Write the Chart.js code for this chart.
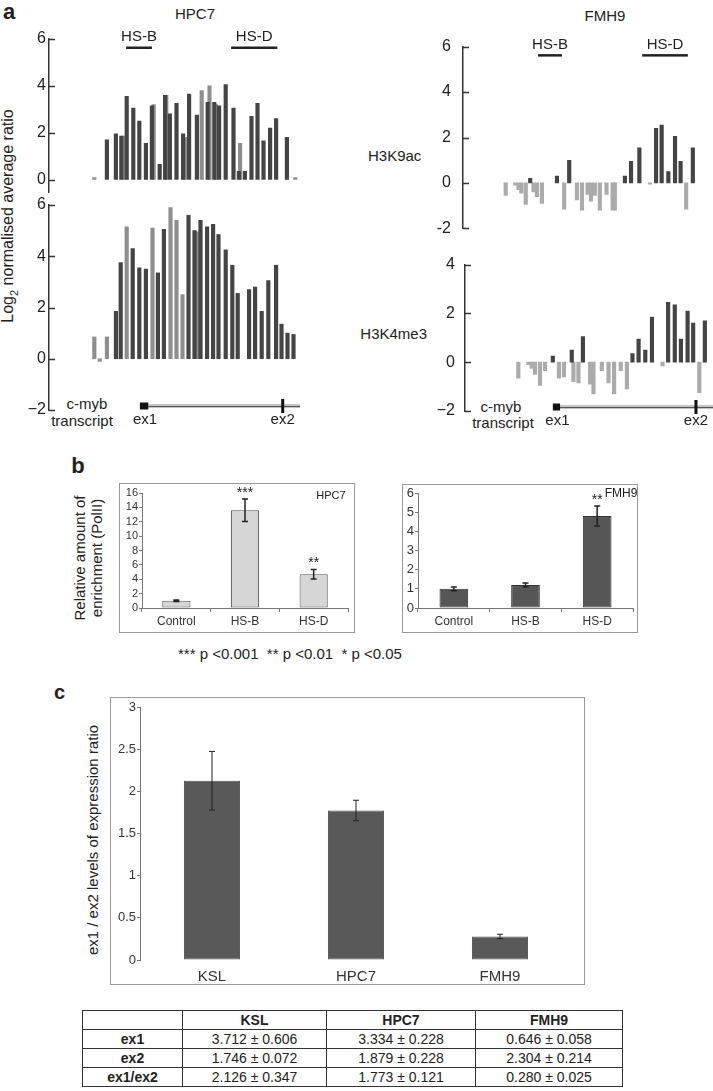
<!DOCTYPE html>
<html>
<head>
<meta charset="utf-8">
<script src="https://cdn.jsdelivr.net/npm/chart.js@4.4.1/dist/chart.umd.min.js"></script>
<style>
  body { margin:0; width:713px; height:1091px; position:relative; overflow:hidden; background:#fff;
         font-family:"Liberation Sans", Arial, sans-serif; color:#222; }
  canvas { position:absolute; }
  .t { position:absolute; white-space:nowrap; line-height:1; }
  .box { position:absolute; border:1px solid #999; box-sizing:border-box; }
  table { position:absolute; left:82px; top:1010px; width:540px; border-collapse:collapse; table-layout:fixed; font-size:14px; }
  td { border:1.5px solid #333; height:18px; padding:0; text-align:center; }
</style>
</head>
<body>
<script>
const FONT = '"Liberation Sans", Arial, sans-serif';
Chart.defaults.font.family = FONT;
Chart.defaults.color = '#222';

// ---- panel a: log2 ratios along the c-myb locus (x = probe position)
const hpc7K9DarkPos = [2.1, 3.6, 4.5, 5.4, 6.5, 7.5, 8.6, 9.6, 10.9, 11.8, 12.6, 13.7, 14.8, 15.8, 17.1, 18.9, 20.0, 20.8, 21.9, 23.2, 24.1, 25.1, 26.2, 27.2, 28.2, 29.3, 30.3, 32.1];
const hpc7K9DarkVal = [1.7, 1.95, 1.85, 3.55, 3.05, 2.5, 1.55, 3.15, 0.65, 3.6, 2.8, 3.25, 1.95, 3.65, 2.75, 3.3, 3.3, 3.15, 4.05, 3.05, 0.35, 0.35, 2.7, 3.25, 1.65, 2.2, 2.6, 1.8];
const hpc7K9LightPos = [0.0, 4.8, 9.9, 12.0, 15.1, 17.9, 19.2, 20.3, 24.3, 33.5];
const hpc7K9LightVal = [0.08, 1.85, 3.2, 3.6, 1.8, 3.8, 4.0, 3.2, 1.55, 0.08];

const hpc7K4DarkPos = [3.6, 4.4, 6.4, 7.5, 8.6, 10.6, 11.6, 15.7, 16.7, 17.7, 18.8, 19.8, 20.7, 21.9, 23.0, 23.9, 25.8, 26.8, 27.9, 29.0, 30.3, 31.2, 32.2, 33.2];
const hpc7K4DarkVal = [1.85, 3.75, 4.3, 3.55, 3.5, 3.35, 5.05, 5.6, 5.0, 5.4, 5.15, 5.25, 4.85, 4.25, 3.65, 2.55, 2.7, 2.8, 1.85, 3.05, 3.65, 1.35, 1.0, 0.95];
const hpc7K4LightPos = [0.0, 0.9, 2.1, 5.4, 9.7, 12.7, 13.7, 14.7, 17.1];
const hpc7K4LightVal = [0.85, -0.1, 0.85, 5.15, 5.1, 5.9, 5.4, 2.5, 4.95];

const fmh9K9DarkPos = [4.4, 9.2, 11.4, 21.4, 22.5, 24.0, 27.0, 28.0, 29.2, 30.4, 31.4, 33.6];
const fmh9K9DarkVal = [0.2, 0.3, 1.0, 0.3, 0.95, 1.55, 2.4, 2.55, 0.5, 2.05, 0.95, 1.55];
const fmh9K9LightPos = [0.0, 1.7, 2.3, 2.8, 3.6, 5.0, 5.6, 6.5, 10.5, 12.8, 13.7, 14.7, 15.3, 16.0, 16.9, 18.1, 19.2, 19.6, 25.9, 32.4];
const fmh9K9LightVal = [-0.55, -0.1, -0.3, -0.45, -0.95, -0.4, -0.6, -0.9, -1.15, -0.75, -1.2, -0.5, -0.8, -0.55, -1.2, -0.5, -1.2, -1.2, -0.05, -1.15];

const fmh9K4DarkPos = [6.2, 9.6, 11.6, 20.5, 21.6, 22.8, 24.0, 26.9, 28.1, 29.2, 30.4, 31.4, 33.5];
const fmh9K4DarkVal = [0.25, 0.5, 1.05, 0.35, 0.95, 0.5, 1.85, 2.45, 2.35, 0.95, 2.1, 1.6, 1.7];
const fmh9K4LightPos = [0.0, 1.8, 2.4, 3.0, 3.9, 4.8, 7.3, 8.2, 9.9, 10.8, 12.9, 13.5, 15.0, 16.2, 17.2, 18.4, 19.5, 25.9, 32.5];
const fmh9K4LightVal = [-0.65, -0.1, -0.25, -0.5, -0.95, -0.35, -0.65, -0.6, -0.8, -0.85, -0.9, -1.3, -0.35, -0.85, -1.3, -0.35, -1.1, -0.15, -1.25];

const hsNames = ['HS-B', 'HS-D'];
const hpc7HsStart = [5.3, 22.8];
const hpc7HsEnd = [9.6, 30.5];
const fmh9HsStart = [5.8, 24.5];
const fmh9HsEnd = [10.1, 32.7];

// exon 1 box, exon 2 and end of the drawn transcript, same position units
const hpc7Exon1 = [7.6, 9.0], hpc7Exon2 = 31.4, hpc7TxEnd = 34.3;
const fmh9Exon1 = [6.2, 7.5], fmh9Exon2 = 31.9, fmh9TxEnd = 35.0;

// ---- panel b: PolII enrichment
const pol2Cats = ['Control', 'HS-B', 'HS-D'];
const hpc7Pol2 = [1.0, 13.6, 4.7];
const hpc7Pol2Err = [0.1, 1.55, 0.65];
const hpc7Stars = ['', '***', '**'];
const fmh9Pol2 = [1.0, 1.2, 4.8];
const fmh9Pol2Err = [0.1, 0.1, 0.52];
const fmh9Stars = ['', '', '**'];

// ---- panel c + table: ex1 / ex2 expression
const cellLines = ['KSL', 'HPC7', 'FMH9'];
const rowNames = ['ex1', 'ex2', 'ex1/ex2'];
const ex1Mean = [3.712, 3.334, 0.646], ex1Sd = [0.606, 0.228, 0.058];
const ex2Mean = [1.746, 1.879, 2.304], ex2Sd = [0.072, 0.228, 0.214];
const ratioMean = [2.126, 1.773, 0.280], ratioSd = [0.347, 0.121, 0.025];

// helpers
function canvasAt(left, top, w, h) {
  const c = document.createElement('canvas');
  c.width = w; c.height = h;
  c.style.left = left + 'px'; c.style.top = top + 'px';
  c.style.width = w + 'px'; c.style.height = h + 'px';
  document.body.appendChild(c);
  return c;
}
function txt(html, x, y, o = {}) {
  const d = document.createElement('div');
  d.className = 't';
  d.innerHTML = html;
  d.style.left = x + 'px'; d.style.top = y + 'px';
  d.style.fontSize = (o.size || 15) + 'px';
  if (o.bold) d.style.fontWeight = 'bold';
  if (o.lh) { d.style.lineHeight = o.lh; d.style.textAlign = 'center'; }
  const ax = o.align === 'left' ? '0' : o.align === 'right' ? '-100%' : '-50%';
  d.style.transform = `translate(${ax},-50%)` + (o.rot ? ` rotate(${o.rot}deg)` : '');
  document.body.appendChild(d);
}
function boxAt(l, t, w, h) {
  const d = document.createElement('div');
  d.className = 'box';
  Object.assign(d.style, { left: l + 'px', top: t + 'px', width: w + 'px', height: h + 'px' });
  document.body.appendChild(d);
}

// inward tick marks on the panel a axes
const inwardTicks = {
  id: 'inwardTicks',
  afterDraw(c) {
    const y = c.scales.y, ctx = c.ctx, x0 = c.chartArea.left;
    ctx.save();
    ctx.strokeStyle = '#333'; ctx.lineWidth = 1.5;
    y.ticks.forEach(t => {
      const py = Math.round(y.getPixelForValue(t.value)) + 0.5;
      ctx.beginPath(); ctx.moveTo(x0, py); ctx.lineTo(x0 + 6, py); ctx.stroke();
    });
    ctx.restore();
  }
};

function hsMarks(start, end) {
  return {
    id: 'hsMarks',
    afterDraw(c) {
      const x = c.scales.x, ctx = c.ctx, top = c.chartArea.top;
      ctx.save();
      ctx.fillStyle = '#222';
      ctx.font = '15px ' + FONT; ctx.textAlign = 'center'; ctx.textBaseline = 'middle';
      hsNames.forEach((n, i) => {
        const x0 = x.getPixelForValue(start[i]), x1 = x.getPixelForValue(end[i]);
        ctx.fillRect(x0, top + 7.5, x1 - x0, 2.5);
        ctx.fillText(n, (x0 + x1) / 2, top - 2);
      });
      ctx.restore();
    }
  };
}

function transcript(ex1, ex2, end) {
  return {
    id: 'transcript',
    afterDraw(c) {
      const x = c.scales.x, ctx = c.ctx, yy = c.chartArea.bottom - 4;
      const px = v => x.getPixelForValue(v);
      ctx.save();
      ctx.fillStyle = '#c4c4c4';
      ctx.fillRect(px(ex1[1]), yy - 2, px(end) - px(ex1[1]), 4);
      ctx.strokeStyle = '#555'; ctx.lineWidth = 1;
      ctx.beginPath(); ctx.moveTo(px(ex1[1]), yy + 0.5); ctx.lineTo(px(end), yy + 0.5); ctx.stroke();
      ctx.fillStyle = '#111';
      ctx.fillRect(px(ex1[0]), yy - 3.5, px(ex1[1]) - px(ex1[0]), 7);
      ctx.fillRect(px(ex2) - 1.5, yy - 7, 3, 14);
      ctx.fillStyle = '#222';
      ctx.font = '15px ' + FONT; ctx.textAlign = 'center'; ctx.textBaseline = 'middle';
      ctx.fillText('ex1', px((ex1[0] + ex1[1]) / 2) + 1, c.chartArea.bottom + 10);
      ctx.fillText('ex2', px(ex2), c.chartArea.bottom + 10);
      ctx.restore();
    }
  };
}

function profileChart(g) {
  const pts = (p, v) => p.map((x, i) => ({ x, y: v[i] }));
  const plugins = [inwardTicks];
  if (g.hs) plugins.push(hsMarks(g.hs[0], g.hs[1]));
  if (g.tx) plugins.push(transcript(g.tx[0], g.tx[1], g.tx[2]));
  return new Chart(canvasAt(g.left, g.top, g.w, g.h), {
    type: 'bar',
    data: {
      datasets: [
        { data: pts(g.darkPos, g.darkVal), backgroundColor: '#444', barThickness: 3.5, grouped: false },
        { data: pts(g.lightPos, g.lightVal), backgroundColor: g.light, barThickness: 3.5, grouped: false }
      ]
    },
    options: {
      responsive: false, animation: false,
      layout: { padding: { top: g.padTop, bottom: g.padBottom, left: 0, right: 0 } },
      plugins: { legend: { display: false }, tooltip: { enabled: false } },
      scales: {
        x: { type: 'linear', display: false, offset: false, min: g.xMin, max: g.xMax },
        y: {
          min: g.yMin, max: g.yMax,
          afterFit: s => { s.width = g.axisW; },
          afterBuildTicks: s => { s.ticks = g.ticks.map(v => ({ value: v })); },
          grid: { display: false, drawTicks: false },
          border: { display: true, color: '#333', width: 1.5 },
          ticks: {
            padding: g.pad, color: '#222', font: { size: 16 },
            callback: v => v < 0 ? g.minus + Math.abs(v) : String(v)
          }
        }
      }
    },
    plugins
  });
}

function errorBars(means, errs, stars, cap, width) {
  return {
    id: 'errorBars',
    afterDatasetsDraw(c) {
      const ctx = c.ctx, y = c.scales.y, meta = c.getDatasetMeta(0);
      ctx.save();
      ctx.strokeStyle = '#222'; ctx.lineWidth = width;
      ctx.fillStyle = '#222';
      ctx.font = '14px ' + FONT; ctx.textAlign = 'center'; ctx.textBaseline = 'middle';
      errs.forEach((e, i) => {
        const x = meta.data[i].x;
        const top = y.getPixelForValue(means[i] + e), bot = y.getPixelForValue(means[i] - e);
        ctx.beginPath();
        ctx.moveTo(x, top); ctx.lineTo(x, bot);
        ctx.moveTo(x - cap, top); ctx.lineTo(x + cap, top);
        ctx.moveTo(x - cap, bot); ctx.lineTo(x + cap, bot);
        ctx.stroke();
        if (stars && stars[i]) ctx.fillText(stars[i], x, top - 6);
      });
      ctx.restore();
    }
  };
}

function barChart(g) {
  return new Chart(canvasAt(g.left, g.top, g.w, g.h), {
    type: 'bar',
    data: {
      labels: g.labels,
      datasets: [{
        data: g.vals, backgroundColor: g.fill, borderColor: g.edge, borderWidth: 1,
        borderSkipped: false, barPercentage: g.barPct, categoryPercentage: 1
      }]
    },
    options: {
      responsive: false, animation: false,
      layout: { padding: { top: g.padTop, right: g.padRight, left: 0, bottom: 0 } },
      plugins: { legend: { display: false }, tooltip: { enabled: false } },
      scales: {
        x: {
          afterFit: s => { s.height = g.xH; },
          grid: { display: g.xTicks, drawOnChartArea: false, tickLength: 4, color: '#777' },
          border: { display: g.xTicks, color: '#777' },
          ticks: { font: { size: g.xFont }, color: '#333', padding: g.xPad, maxRotation: 0, autoSkip: false }
        },
        y: {
          min: 0, max: g.yMax,
          afterFit: s => { s.width = g.axisW; },
          ticks: { stepSize: g.step, autoSkip: false, font: { size: g.yFont }, color: '#333', padding: 1,
                   callback: v => String(Math.round(v * 10) / 10) },
          grid: { display: true, drawOnChartArea: false, tickLength: 3, color: '#777' },
          border: { color: '#777' }
        }
      }
    },
    plugins: [errorBars(g.vals, g.errs, g.stars, g.cap, g.errW)]
  });
}

// ---------------- panel a
txt('a', 3, 12, { size: 22, bold: true, align: 'left' });
txt('HPC7', 195, 13);
txt('FMH9', 605, 15);
txt('Log<sub style="font-size:11px">2</sub> normalised average ratio', 10, 216, { size: 16, rot: -90 });
txt('H3K9ac', 368, 155, { align: 'left' });
txt('H3K4me3', 427, 333, { align: 'right' });
txt('c-myb', 87, 403);
txt('transcript', 82, 420);
txt('c-myb', 501, 406);
txt('transcript', 503, 422);

profileChart({
  left: 0, top: 25, w: 310, h: 180, padTop: 14, padBottom: 0, axisW: 49, pad: 3,
  xMin: -7.55, xMax: 35.95, yMin: -0.55, yMax: 6, ticks: [0, 2, 4, 6], minus: '\u2212',
  darkPos: hpc7K9DarkPos, darkVal: hpc7K9DarkVal, lightPos: hpc7K9LightPos, lightVal: hpc7K9LightVal,
  light: '#8e8e8e', hs: [hpc7HsStart, hpc7HsEnd]
});
profileChart({
  left: 0, top: 190, w: 310, h: 242, padTop: 15, padBottom: 22, axisW: 49, pad: 3,
  xMin: -7.55, xMax: 35.95, yMin: -2, yMax: 6, ticks: [-2, 0, 2, 4, 6], minus: '\u2212',
  darkPos: hpc7K4DarkPos, darkVal: hpc7K4DarkVal, lightPos: hpc7K4LightPos, lightVal: hpc7K4LightVal,
  light: '#8e8e8e', tx: [hpc7Exon1, hpc7Exon2, hpc7TxEnd]
});
profileChart({
  left: 420, top: 25, w: 293, h: 225, padTop: 14, padBottom: 10, axisW: 43, pad: 12,
  xMin: -7.67, xMax: 37.22, yMin: -2, yMax: 6, ticks: [-2, 0, 2, 4, 6], minus: '-',
  darkPos: fmh9K9DarkPos, darkVal: fmh9K9DarkVal, lightPos: fmh9K9LightPos, lightVal: fmh9K9LightVal,
  light: '#ababab', hs: [fmh9HsStart, fmh9HsEnd]
});
profileChart({
  left: 420, top: 245, w: 293, h: 190, padTop: 16, padBottom: 24, axisW: 45, pad: 10,
  xMin: -9.57, xMax: 34.96, yMin: -2, yMax: 4, ticks: [-2, 0, 2, 4], minus: '\u2212',
  darkPos: fmh9K4DarkPos, darkVal: fmh9K4DarkVal, lightPos: fmh9K4LightPos, lightVal: fmh9K4LightVal,
  light: '#ababab', tx: [fmh9Exon1, fmh9Exon2, fmh9TxEnd]
});

// ---------------- panel b
txt('b', 78, 466, { size: 22, bold: true });
txt('Relative amount of<br>enrichment (PolII)', 88, 558, { size: 15, rot: -90, lh: 1.15 });
boxAt(119, 483, 236, 150);
boxAt(402, 484, 236, 149);
barChart({
  left: 119, top: 483, w: 236, h: 150, padTop: 10, padRight: 7, axisW: 23, xH: 25,
  labels: pol2Cats, vals: hpc7Pol2, errs: hpc7Pol2Err, stars: hpc7Stars,
  fill: '#d6d6d6', edge: '#555', barPct: 0.41, yMax: 16, step: 2, yFont: 11, xFont: 12, xPad: 2,
  xTicks: true, cap: 3, errW: 1.5
});
barChart({
  left: 402, top: 484, w: 236, h: 149, padTop: 9, padRight: 5, axisW: 16, xH: 25,
  labels: pol2Cats, vals: fmh9Pol2, errs: fmh9Pol2Err, stars: fmh9Stars,
  fill: '#565656', edge: '#333', barPct: 0.4, yMax: 6, step: 1, yFont: 13, xFont: 12, xPad: 2,
  xTicks: true, cap: 3, errW: 1.5
});
txt('HPC7', 331, 495, { size: 11 });
txt('FMH9', 621, 493, { size: 12 });
txt('*** p &lt;0.001&nbsp;&nbsp;** p &lt;0.01&nbsp;&nbsp;* p &lt;0.05', 290, 653, { size: 15 });

// ---------------- panel c
txt('c', 54, 692, { size: 20, bold: true, align: 'left' });
txt('ex1 / ex2 levels of expression ratio', 92, 840, { size: 15, rot: -90 });
boxAt(110, 697, 475, 288);
barChart({
  left: 110, top: 697, w: 475, h: 288, padTop: 10, padRight: 13, axisW: 30, xH: 25,
  labels: cellLines, vals: ratioMean, errs: ratioSd, stars: null,
  fill: '#595959', edge: '#505050', barPct: 0.39, yMax: 3, step: 0.5, yFont: 13, xFont: 15, xPad: 4,
  xTicks: false, cap: 3, errW: 1
});

// ---------------- table
const fmt = (m, s) => m.toFixed(3) + ' \u00b1 ' + s.toFixed(3);
const tableMeans = [ex1Mean, ex2Mean, ratioMean];
const tableSds = [ex1Sd, ex2Sd, ratioSd];
const tbl = document.createElement('table');
let html = '<colgroup><col style="width:100px"><col style="width:144px"><col style="width:149px"><col style="width:147px"></colgroup>';
html += '<tr><td></td>' + cellLines.map(c => '<td><b>' + c + '</b></td>').join('') + '</tr>';
rowNames.forEach((r, i) => {
  html += '<tr><td><b>' + r + '</b></td>' + cellLines.map((c, j) => '<td>' + fmt(tableMeans[i][j], tableSds[i][j]) + '</td>').join('') + '</tr>';
});
tbl.innerHTML = html;
document.body.appendChild(tbl);
</script>
</body>
</html>
